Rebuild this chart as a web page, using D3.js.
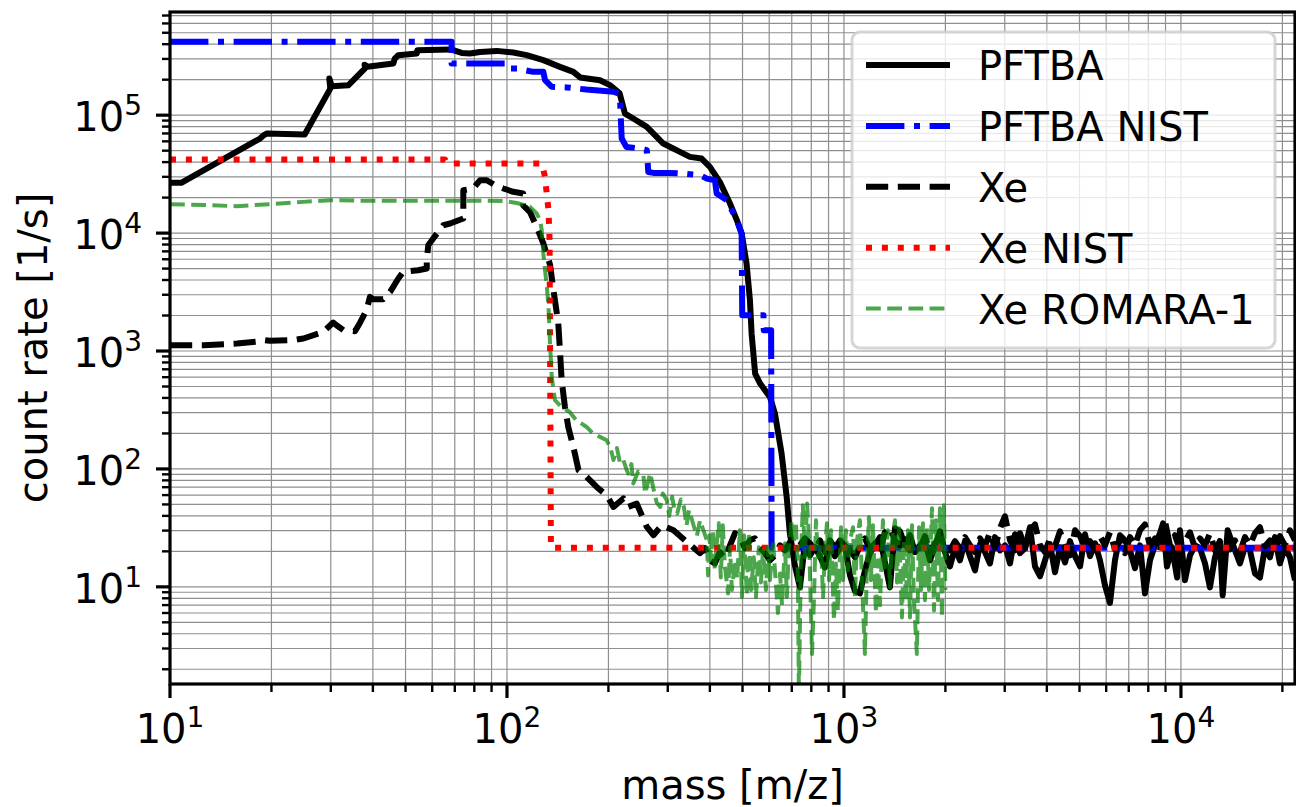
<!DOCTYPE html>
<html><head><meta charset="utf-8">
<script src="https://cdn.jsdelivr.net/npm/d3@7"></script>
<style>
body{margin:0;background:#fff}
svg{display:block}
text{font-family:"DejaVu Sans",sans-serif;fill:#000}
</style>
</head><body>
<svg id="chart" width="1296" height="807"></svg>
<script>
// ---------------- data (mass [m/z], count rate [1/s]) ----------------
const seriesNames = ["PFTBA", "PFTBA NIST", "Xe", "Xe NIST", "Xe ROMARA-1"];
const xDomain = [10, 21800];
const yDomain = [1.5, 7.5e5];
const xMajorTicks = [10, 100, 1000, 10000];
const yMajorTicks = [10, 100, 1000, 10000, 100000];
const minorMultiples = [2, 3, 4, 5, 6, 7, 8, 9];

const pftbaCurve = [[10,26700],[10.8,26700],[18.5,63400],[19,67800],[19.4,70000],[25.1,68500],[29.9,168000],[29.7,205000],[30.2,176000],[33.8,179000],[37.9,249000],[37.8,268000],[38.5,257000],[46.0,274000],[46.4,300000],[47.6,323000],[54.0,333000],[54.2,355000],[67.8,361000],[69.2,356000],[73.4,337000],[77.6,333000],[83.2,344000],[93.2,351000],[104.4,340000],[114.4,323000],[128.2,293000],[143.6,257000],[157.4,233000],[164.8,209000],[188.8,198000],[202,180000],[216,153000],[224,103000],[237,93700],[260,79600],[291,57500],[326,48900],[349,44300],[378,42900],[400,36400],[428,27200],[459,17800],[481,12900],[497,9930],[514,5520],[526,2700],[532,1410],[545,644],[564,530],[603,408],[624,295],[653,135],[676,58]];
const pftbaNoise = [[691,28.5],[715,15.2],[740,9.9],[766,23.4],[793,18.5],[820,21.7],[849,18.2],[878,14.6],[909,24.8],[940,21.3],[973,24.8],[1007,22.5],[1042,12.5],[1078,9.2],[1115,8.8],[1154,13.8],[1194,19.3],[1236,22.5],[1279,26.4],[1323,16.1],[1369,9.9],[1417,31.4],[1466,29.6],[1517,22.5],[1570,27.4],[1624,19.7],[1681,22.5],[1739,24.4],[1800,16.8],[1862,22.1],[1927,29.6],[1994,19.7],[2063,14.9],[2135,21.3],[2209,16.8],[2286,24.4],[2366,18.2],[2448,13.8],[2533,23.0],[2621,19.7],[2712,15.8],[2806,26.4],[2904,20.4],[3005,22.5],[3110,15.8],[3218,27.9],[3330,19.3],[3445,21.3],[3565,32.0],[3689,14.9],[3817,12.3],[3950,16.8],[4087,23.0],[4229,13.3],[4377,21.7],[4529,16.1],[4686,24.4],[4849,18.2],[5018,14.9],[5192,27.9],[5373,18.2],[5559,23.4],[5750,16.8],[5951,10.3],[6157,7.3],[6371,16.8],[6593,27.4],[6822,24.8],[7059,20.4],[7304,14.4],[7558,22.5],[7821,8.8],[8093,16.8],[8374,22.5],[8666,28.5],[8850,34.6],[9090,14.9],[9408,21.7],[9740,12.0],[9935,30.2],[10280,11.4],[10638,18.5],[11007,22.5],[11386,21.3],[11786,15.8],[12191,9.9],[12617,17.8],[13054,24.4],[13300,8.5],[13760,30.2],[14463,20.4],[14966,15.8],[15486,21.7],[16024,20.4],[16581,13.0],[17158,12.0],[17754,21.7],[18371,17.8],[19010,26.4],[19671,15.8],[20354,21.7],[21062,17.8],[21794,11.4]];

const pftbaNist = [[10,419000],[68.5,419000],[68.5,274000],[98.6,274000],[100,249000],[108,249000],[113,241000],[119.7,233000],[128.2,233000],[129.7,198000],[135.8,174000],[150.4,172000],[172,165000],[207,158000],[214,153000],[216.5,134000],[219,63400],[226,53800],[248,52200],[260,50500],[262.6,33000],[272,32400],[305,32400],[334,32000],[374,31000],[392,29000],[414,28100],[419,21700],[449,19000],[459,16700],[470,14700],[481,12900],[497,9930],[499,2010],[577,2010],[578,1500],[608,1500],[610,21.5],[21800,21.5]];

const xeCurve = [[10,1120],[12.6,1120],[15.8,1157],[18.5,1210],[19.1,1236],[19.8,1220],[23.2,1236],[24.9,1277],[28.5,1453],[30.5,1745],[31.2,1655],[32.7,1500],[35.4,1472],[36.6,1730],[38.3,2218],[39.2,2877],[40.1,2750],[42.9,2750],[45.0,3170],[47.6,4120],[49.2,4690],[54.5,4840],[57.8,5010],[57.8,5890],[58.4,7890],[60.4,8990],[64.7,11660],[67.8,12060],[74.2,13300],[74.2,23100],[79.4,23900],[83.2,28100],[87.1,28100],[92.1,25500],[97.5,23900],[104.4,22400],[111.7,21700],[111.7,17200],[117,15100],[122.5,11300],[128.2,8170],[134.2,5400],[137.4,3280],[142,1710],[143.6,1016],[145.3,565],[148.6,336],[152,227],[157.4,154],[163,97.5],[172.3,85.5],[184.5,70.3],[197.6,59.8],[207,47.6],[221.5,56.1],[229,47.6],[242.7,50.8],[260,32.2],[272,27.4],[288,33.3],[312,30.2],[342,24]];
const xeNoise = [[374,19.3],[387,21.3],[400,16.8],[414,15.8],[428,19.7],[443,17.5],[459,22.5],[475,28.5],[491,26.4],[508,21.3],[526,24.8],[544,25.8],[563,21.7],[583,19.3],[603,16.8],[624,18.5],[646,22.5],[668,20.4],[691,23.9],[715,21.3],[740,22.5],[766,25.8],[793,23.4],[820,20.4],[849,24.8],[878,19.7],[909,22.5],[940,18.2],[973,21.3],[1007,24.4],[1042,20.4],[1078,17.8],[1115,22.1],[1154,25.8],[1194,20.8],[1236,23.4],[1279,19.7],[1323,29.0],[1369,32.0],[1417,24.8],[1466,22.1],[1517,27.9],[1570,20.4],[1624,24.4],[1681,21.3],[1739,26.9],[1800,19.7],[1862,23.4],[1927,25.8],[1994,22.1],[2063,20.4],[2135,24.4],[2209,21.3],[2286,26.4],[2366,22.5],[2448,19.7],[2533,25.8],[2621,22.1],[2712,29.0],[2806,21.3],[2904,31.4],[3005,39.7],[3110,24.8],[3218,20.4],[3330,28.5],[3445,21.3],[3565,30.2],[3689,33.9],[3817,22.5],[3950,19.7],[4087,25.8],[4229,22.1],[4377,29.6],[4529,21.3],[4686,18.5],[4849,30.2],[5018,26.9],[5192,21.3],[5373,24.4],[5559,20.4],[5750,26.9],[5951,22.5],[6157,29.0],[6371,20.8],[6593,24.8],[6822,19.3],[7059,26.4],[7304,22.5],[7558,30.2],[7821,33.9],[8093,22.1],[8374,25.8],[8666,20.4],[8967,36.0],[9279,22.5],[9601,27.4],[9935,20.4],[10280,24.4],[10638,29.0],[11007,21.3],[11386,25.8],[11786,22.5],[12191,28.5],[12617,20.4],[13054,24.4],[13508,26.9],[13977,20.8],[14463,24.8],[14966,19.7],[15486,26.4],[16024,22.5],[16581,28.5],[17158,32.0],[17754,22.1],[18371,24.8],[19010,19.7],[19671,26.9],[20354,22.5],[21062,30.2],[21794,24.8]];

const xeNist = [[10,42100],[65.5,42100],[66.5,38900],[127,38900],[129.7,29800],[131.2,21700],[132.8,15600],[133.8,8700],[135,21.5],[21800,21.5]];

const romaraCurve = [[10,17600],[12.6,17300],[15.8,16900],[19.8,17600],[24.9,18400],[29.9,19000],[39.2,18800],[49.2,18800],[69.2,18800],[87.1,18800],[97.5,18700],[107,18000],[117,16700],[122.5,14700],[125.3,12900],[126.8,10600],[128.2,6720],[129.7,4840],[131.2,3600],[132.8,2400],[134.2,1150],[135.8,600],[138.8,383],[145,336],[153.5,304],[160.5,259],[172.3,227],[180,200],[188.8,187],[197.6,175],[203,150],[207,119],[212,150],[216.5,112],[221.5,119],[226,100],[229,91.4],[234,110],[237,75.2],[245,95],[254,88.5],[257,62],[260,70.3],[266,92],[272,68.2],[278,52],[285,47.6],[290,62],[298,54.3],[303,40],[309,58],[314,45],[320,41.9],[328,55],[335,47.6],[341,33],[347,44.7],[353,38],[359,32.2],[366,27],[374,36.7],[383,30],[392,24.8]];
const romaraNoise = [[395,12.5],[399,27.4],[403,16.8],[408,30.2],[414,13.8],[420,24.8],[425,34.6],[431,12.0],[437,33.3],[443,15.2],[453,8.8],[459,21.7],[465,9.4],[475,16.8],[482,11.8],[491,30.2],[498,8.2],[505,27.4],[515,8.5],[522,29.0],[530,9.4],[540,17.8],[548,8.2],[559,21.7],[567,10.9],[575,20.4],[587,9.4],[595,21.7],[603,11.4],[616,24.8],[624,13.8],[637,6.0],[646,13.0],[655,7.0],[668,23.4],[677,8.2],[686,21.3],[700,36.7],[710,23.4],[720,35.3],[730,11.4],[735,1.2],[745,16.8],[755,49.2],[766,17.8],[777,51],[788,24.8],[804,2.7],[815,8.2],[826,36.7],[837,17.8],[855,21.7],[867,8.2],[878,20.4],[890,34.6],[903,11.4],[915,30.2],[934,5.2],[946,15.8],[959,6.3],[980,32.0],[993,11.4],[1014,30.2],[1028,13.8],[1042,24.8],[1064,32.0],[1078,8.2],[1093,24.8],[1115,36.7],[1130,12.0],[1154,2.7],[1170,15.8],[1186,38.9],[1202,11.4],[1219,33.3],[1244,6.0],[1262,16.8],[1279,7.0],[1305,36.7],[1323,14.6],[1350,30.2],[1369,9.9],[1388,24.8],[1417,36.7],[1437,10.9],[1456,33.3],[1486,5.5],[1507,24.8],[1527,7.7],[1548,30.2],[1570,5.5],[1592,33.3],[1613,7.7],[1646,2.7],[1670,32.0],[1693,9.4],[1716,34.6],[1739,7.7],[1763,31.4],[1788,9.4],[1825,46.4],[1850,6.3],[1875,36.7],[1901,7.7],[1927,46.4],[1954,5.5],[1980,49.2],[2000,9.4]];

// ---------------- layout ----------------
const W = 1296, H = 807;
const L = 170, R = 1295, T = 12, B = 684;
const FS = 40;

const svg = d3.select("#chart");
const x = d3.scaleLog().domain(xDomain).range([L, R]);
const y = d3.scaleLog().domain(yDomain).range([B, T]);

function minorsIn(domain, majors) {
  const decades = [majors[0] / 10].concat(majors);
  const out = [];
  decades.forEach(d => minorMultiples.forEach(m => {
    const v = d * m;
    if (v >= domain[0] && v <= domain[1]) out.push(v);
  }));
  return out;
}
const xMinor = minorsIn(xDomain, xMajorTicks);
const yMinor = minorsIn(yDomain, yMajorTicks);

// grid (both)
const grid = svg.append("g").attr("stroke", "#8f8f8f").attr("stroke-width", 1.2);
grid.selectAll("line.gx").data(xMinor.concat(xMajorTicks)).join("line")
  .attr("x1", d => x(d)).attr("x2", d => x(d)).attr("y1", T).attr("y2", B);
grid.selectAll("line.gy").data(yMinor.concat(yMajorTicks)).join("line")
  .attr("y1", d => y(d)).attr("y2", d => y(d)).attr("x1", L).attr("x2", R);

// clip
svg.append("clipPath").attr("id", "plotclip").append("rect")
  .attr("x", L).attr("y", T).attr("width", R - L).attr("height", B - T);

const line = d3.line().x(d => x(d[0])).y(d => y(d[1]));
const plot = svg.append("g").attr("clip-path", "url(#plotclip)");

const styles = [
  {color: "#000000", width: 6, dash: null, opacity: 1},
  {color: "#0000ff", width: 6, dash: "38.4,9.6,6,9.6", opacity: 1},
  {color: "#000000", width: 6, dash: "22.2,9.6", opacity: 1},
  {color: "#ff0000", width: 6, dash: "6,9.9", opacity: 1},
  {color: "#008000", width: 4, dash: "14.8,6.4", opacity: 0.7}
];
const seriesData = [
  pftbaCurve.concat(pftbaNoise),
  pftbaNist,
  xeCurve.concat(xeNoise),
  xeNist,
  romaraCurve.concat(romaraNoise)
];
seriesData.forEach((data, i) => {
  const s = styles[i];
  plot.append("path").datum(data)
    .attr("d", line)
    .attr("fill", "none")
    .attr("stroke", s.color)
    .attr("stroke-width", s.width)
    .attr("stroke-opacity", s.opacity)
    .attr("stroke-linejoin", "round")
    .attr("stroke-linecap", "butt")
    .attr("stroke-dasharray", s.dash);
});

// spines
svg.append("rect").attr("x", L).attr("y", T).attr("width", R - L).attr("height", B - T)
  .attr("fill", "none").attr("stroke", "#000").attr("stroke-width", 3.2);

// ticks
const tk = svg.append("g").attr("stroke", "#000");
tk.selectAll("line.xM").data(xMajorTicks).join("line")
  .attr("x1", d => x(d)).attr("x2", d => x(d)).attr("y1", B).attr("y2", B + 14).attr("stroke-width", 3.2);
tk.selectAll("line.xm").data(xMinor).join("line")
  .attr("x1", d => x(d)).attr("x2", d => x(d)).attr("y1", B).attr("y2", B + 8).attr("stroke-width", 2.4);
tk.selectAll("line.yM").data(yMajorTicks).join("line")
  .attr("y1", d => y(d)).attr("y2", d => y(d)).attr("x1", L).attr("x2", L - 14).attr("stroke-width", 3.2);
tk.selectAll("line.ym").data(yMinor).join("line")
  .attr("y1", d => y(d)).attr("y2", d => y(d)).attr("x1", L).attr("x2", L - 8).attr("stroke-width", 2.4);

function powLabel(sel) {
  sel.append("tspan").text("10");
  sel.append("tspan").attr("dy", -16).attr("font-size", FS * 0.7).text(d => Math.round(Math.log10(d)));
}
svg.selectAll("text.xt").data(xMajorTicks).join("text")
  .attr("x", d => x(d)).attr("y", 743).attr("text-anchor", "middle").attr("font-size", FS)
  .call(powLabel);
svg.selectAll("text.yt").data(yMajorTicks).join("text")
  .attr("x", 142).attr("y", d => y(d) + 16).attr("text-anchor", "end").attr("font-size", FS)
  .call(powLabel);

// axis labels
svg.append("text").attr("x", (L + R) / 2).attr("y", 799).attr("text-anchor", "middle")
  .attr("font-size", FS).text("mass [m/z]");
svg.append("text").attr("transform", `translate(47,${(T + B) / 2}) rotate(-90)`)
  .attr("text-anchor", "middle").attr("font-size", FS).text("count rate [1/s]");

// legend
const lg = svg.append("g");
lg.append("rect").attr("x", 852).attr("y", 32).attr("width", 423).attr("height", 316)
  .attr("rx", 8).attr("fill", "#fff").attr("fill-opacity", 0.8)
  .attr("stroke", "#cccccc").attr("stroke-opacity", 0.8).attr("stroke-width", 3);
seriesNames.forEach((name, i) => {
  const s = styles[i];
  const cy = 65 + i * 60.9;
  lg.append("line").attr("x1", 866).attr("x2", 950).attr("y1", cy).attr("y2", cy)
    .attr("stroke", s.color).attr("stroke-width", s.width).attr("stroke-opacity", s.opacity)
    .attr("stroke-dasharray", s.dash);
  lg.append("text").attr("x", 978).attr("y", cy + 15).attr("font-size", FS).text(name);
});
</script>
</body></html>
